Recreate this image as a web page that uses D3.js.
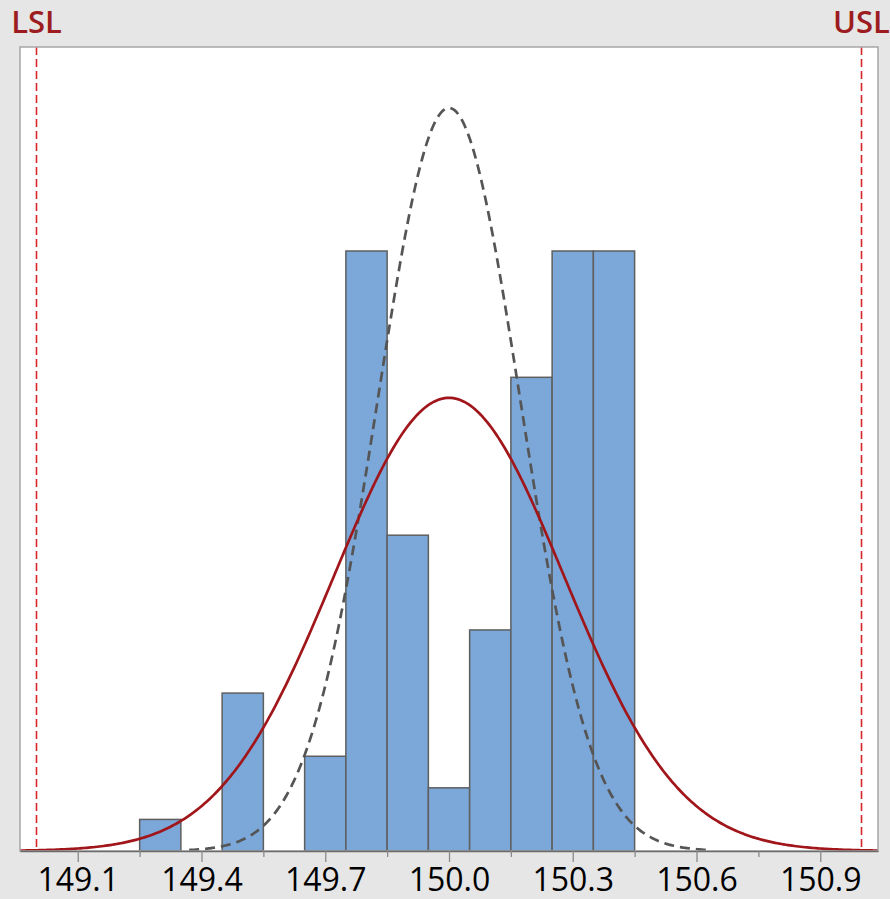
<!DOCTYPE html>
<html>
<head>
<meta charset="utf-8">
<script src="https://cdn.jsdelivr.net/npm/d3@7/dist/d3.min.js"></script>
<style>
  html, body { margin: 0; padding: 0; background: #e6e6e6; }
  svg { display: block; }
</style>
</head>
<body>
<svg id="chart" width="890" height="899"></svg>
<script>
// ---------- data ----------
const binStarts = [149.25, 149.35, 149.45, 149.55, 149.65, 149.75, 149.85, 149.95, 150.05, 150.15, 150.25, 150.35];
const binWidth = 0.1;
const binCounts = [1, 0, 5, 0, 3, 19, 10, 2, 7, 15, 19, 19];

const majorTicks = [149.1, 149.4, 149.7, 150.0, 150.3, 150.6, 150.9];
const majorTickLabels = ["149.1", "149.4", "149.7", "150.0", "150.3", "150.6", "150.9"];
const minorTicks = [149.25, 149.55, 149.85, 150.15, 150.45, 150.75];

const specLabels = ["LSL", "USL"];
const specValues = [149.0, 151.0];

// fitted normal curves: [mean, sigma, peak height in counts]
const overallFit = [150.0, 0.279, 14.35];
const withinFit = [150.0, 0.173, 23.53];
const withinRange = [149.37, 150.63];

const xDomain = [148.96, 151.04];
const yDomain = [0, 25.46];

// ---------- layout ----------
const W = 890, H = 899;
const pLeft = 20, pRight = 878, pTop = 47, pBottom = 851;

const svg = d3.select("#chart");
const x = d3.scaleLinear().domain(xDomain).range([pLeft, pRight]);
const y = d3.scaleLinear().domain(yDomain).range([pBottom, pTop]);

svg.append("rect").attr("x", 0).attr("y", 0).attr("width", W).attr("height", H).attr("fill", "#e6e6e6");
svg.append("rect").attr("x", pLeft).attr("y", pTop).attr("width", pRight - pLeft).attr("height", pBottom - pTop).attr("fill", "#ffffff");

svg.append("defs").append("clipPath").attr("id", "clip")
  .append("rect").attr("x", pLeft).attr("y", pTop).attr("width", pRight - pLeft).attr("height", pBottom - pTop);

const plot = svg.append("g").attr("clip-path", "url(#clip)");

// bars
const bars = binStarts.map((s, i) => ({ x0: s, x1: s + binWidth, c: binCounts[i] })).filter(d => d.c > 0);
plot.selectAll("rect.bar").data(bars).enter().append("rect")
  .attr("class", "bar")
  .attr("x", d => x(d.x0))
  .attr("y", d => y(d.c))
  .attr("width", d => x(d.x1) - x(d.x0))
  .attr("height", d => y(0) - y(d.c))
  .attr("fill", "#7ba7d9")
  .attr("stroke", "#5f5f5f")
  .attr("stroke-width", 1.5);

// normal curves
function curvePoints(fit, lo, hi) {
  const [mu, sd, peak] = fit;
  return d3.range(0, 401).map(i => {
    const v = lo + (hi - lo) * i / 400;
    const z = (v - mu) / sd;
    return [v, peak * Math.exp(-0.5 * z * z)];
  });
}
const line = d3.line().x(d => x(d[0])).y(d => y(d[1])).curve(d3.curveLinear);

plot.append("path")
  .datum(curvePoints(withinFit, withinRange[0], withinRange[1]))
  .attr("d", line)
  .attr("fill", "none")
  .attr("stroke", "#555555")
  .attr("stroke-width", 2.7)
  .attr("stroke-dasharray", "10,6");

plot.append("path")
  .datum(curvePoints(overallFit, xDomain[0], xDomain[1]))
  .attr("d", line)
  .attr("fill", "none")
  .attr("stroke", "#a0161b")
  .attr("stroke-width", 2.7);

// spec limits
plot.selectAll("line.spec").data(specValues).enter().append("line")
  .attr("class", "spec")
  .attr("x1", d => x(d)).attr("x2", d => x(d))
  .attr("y1", pTop).attr("y2", pBottom)
  .attr("stroke", "#d9262b")
  .attr("stroke-width", 1.6)
  .attr("stroke-dasharray", "8,4");

svg.selectAll("text.spec").data(specValues).enter().append("text")
  .attr("class", "spec")
  .attr("x", d => x(d))
  .attr("y", 33)
  .attr("text-anchor", "middle")
  .attr("font-family", "'Open Sans', sans-serif")
  .attr("font-weight", 600)
  .attr("font-size", 31)
  .attr("fill", "#9c1c1f")
  .text((d, i) => specLabels[i]);

// frame
svg.append("rect").attr("x", pLeft).attr("y", pTop).attr("width", pRight - pLeft).attr("height", pBottom - pTop)
  .attr("fill", "none").attr("stroke", "#a6a6a6").attr("stroke-width", 1.5);

// x axis
const axis = d3.axisBottom(x)
  .tickValues(majorTicks)
  .tickFormat((d, i) => majorTickLabels[i])
  .tickSize(11)
  .tickSizeOuter(0)
  .tickPadding(6);
const gAxis = svg.append("g").attr("transform", `translate(0,${pBottom})`).call(axis);
gAxis.select(".domain").attr("stroke", "#6b6b6b").attr("stroke-width", 1.5);
gAxis.selectAll(".tick line").attr("stroke", "#8a8a8a").attr("stroke-width", 1.3);
gAxis.selectAll(".tick text")
  .attr("font-family", "'Open Sans', sans-serif")
  .attr("font-size", 32)
  .attr("font-weight", 500)
  .attr("fill", "#000000");

const minorAxis = d3.axisBottom(x).tickValues(minorTicks).tickFormat("").tickSize(6).tickSizeOuter(0);
const gMinor = svg.append("g").attr("transform", `translate(0,${pBottom})`).call(minorAxis);
gMinor.select(".domain").remove();
gMinor.selectAll(".tick line").attr("stroke", "#8a8a8a").attr("stroke-width", 1.3);
</script>
</body>
</html>
